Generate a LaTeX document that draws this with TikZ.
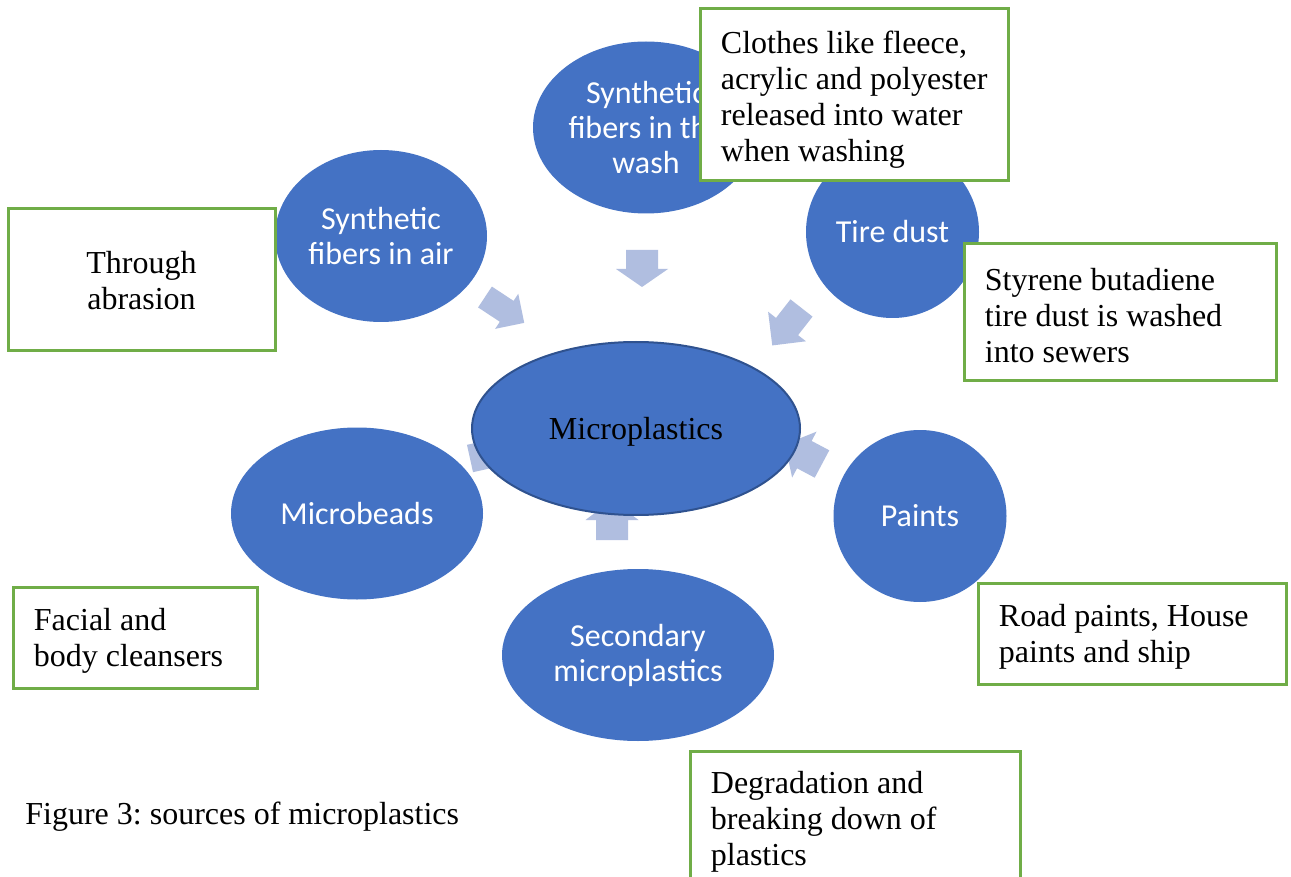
\documentclass[tikz,border=0pt]{standalone}
\usepackage{fontspec}
\setmainfont{Liberation Serif}
\newfontfamily\calfont{Carlito}
\usetikzlibrary{shapes.geometric}
\frenchspacing
\definecolor{blu}{HTML}{4472C4}
\definecolor{blub}{HTML}{2F528F}
\definecolor{arr}{HTML}{B0BEE0}
\definecolor{grn}{HTML}{70AD47}
\newcommand\blockarr[7]{%
  \begin{scope}[shift={(#1,#2)},rotate=#3]
    \fill[arr] (0,-#6/2) -- (#4,-#6/2) -- (#4,-#7/2) -- (#4+#5,0) -- (#4,#7/2) -- (#4,#6/2) -- (0,#6/2) -- cycle;
  \end{scope}}
\tikzset{
  sat/.style={ellipse, fill=blu, text=white, font=\calfont\fontsize{16}{17.5}\selectfont, align=center, inner sep=0pt},
  hub/.style={ellipse, fill=blu, draw=blub, line width=1pt, inner sep=0pt},
  frame/.style={rectangle, draw=grn, line width=1.5pt, fill=white, inner sep=0pt},
  txt/.style={font=\fontsize{16}{18}\selectfont, align=left, inner sep=0pt, anchor=west},
}
\begin{document}
\frenchspacing
\begin{tikzpicture}[x=0.5pt,y=-0.5pt]
\useasboundingbox (0,0) rectangle (1291,877);
\clip (0,0) rectangle (1291,877);
\fill[white] (0,0) rectangle (1291,877);
% block arrows
\blockarr{642}{250}{-90}{19}{18}{32}{52}
\blockarr{485}{297}{-33.4}{26}{21}{25}{42}
\blockarr{801.5}{308}{-128}{23.5}{24}{28}{48}
\blockarr{822}{464}{152}{20}{22}{31}{52}
\blockarr{612}{540}{90}{20}{20}{32}{53}
\blockarr{470}{458.5}{12.5}{23}{22}{28}{48}
% satellites
\node[sat, minimum width=106pt, minimum height=86pt] (air) at (381,236) {Synthetic\\fibers in air};
\node[sat, minimum width=113pt, minimum height=86pt] (wash) at (646,127.5) {Synthetic\\fibers in the\\wash};
\node[sat, minimum width=86.5pt, minimum height=86pt] (tire) at (892.5,232) {Tire dust};
\node[sat, minimum width=86.5pt, minimum height=86pt] (paint) at (920,516) {Paints};
\node[sat, minimum width=136pt, minimum height=86pt] (sec) at (638,655) {Secondary\\microplastics};
\node[sat, minimum width=126pt, minimum height=86pt] (mb) at (357,513.5) {Microbeads};
% hub
\node[hub, minimum width=164pt, minimum height=86.5pt] (mp) at (636,428.5) {};
\node[font=\fontsize{16}{18}\selectfont, inner sep=0pt] (mpT) at ([yshift=-1.5pt]mp.center) {Microplastics};
% boxes
\node[frame, minimum width=133.5pt, minimum height=71pt] (abr) at (141.5,280) {};
\node[font=\fontsize{16}{18}\selectfont, align=center, inner sep=0pt] (abrT) at ([yshift=-0.5pt]abr.center) {Through\\abrasion};
\node[frame, minimum width=154pt, minimum height=86pt] (clo) at (854,95) {};
\node[txt] (cloT) at ([xshift=11pt,yshift=-2.5pt]clo.west) {Clothes like fleece,\\acrylic and polyester\\released into water\\when washing};
\node[frame, minimum width=156pt, minimum height=68.5pt] (sty) at (1120,312.5) {};
\node[txt] (styT) at ([xshift=11pt,yshift=-1.5pt]sty.west) {Styrene butadiene\\tire dust is washed\\into sewers};
\node[frame, minimum width=154pt, minimum height=50.5pt] (road) at (1132,633.5) {};
\node[txt] (roadT) at ([xshift=11pt,yshift=-1.5pt]road.west) {Road paints, House\\paints and ship};
\node[frame, minimum width=122pt, minimum height=50.5pt] (fac) at (135,637.5) {};
\node[txt] (facT) at ([xshift=11pt,yshift=-1.5pt]fac.west) {Facial and\\body cleansers};
\node[frame, minimum width=165pt, minimum height=67.5pt] (deg) at (855,818.5) {};
\node[txt] (degT) at ([xshift=11pt,yshift=-1.5pt]deg.west) {Degradation and\\breaking down of\\plastics};
% caption
\node[txt] (cap) at (25,817) {Figure 3: sources of microplastics};
\end{tikzpicture}
\end{document}
